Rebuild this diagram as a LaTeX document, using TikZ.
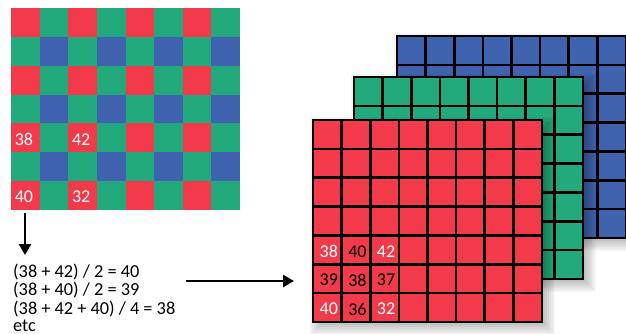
\documentclass[tikz,border=0pt]{standalone}
\usepackage{fontspec}
\setmainfont{Carlito}
\usetikzlibrary{arrows.meta,calc}
\definecolor{cr}{HTML}{F23A4A}
\definecolor{cg}{HTML}{22AA7C}
\definecolor{cb}{HTML}{3F63AF}
\colorlet{m0}{cr}\colorlet{m1}{cg}\colorlet{m2}{cg}\colorlet{m3}{cb}
\newcommand\mklayer[4]{%
  \foreach \e in {0,...,8}
    \fill[black,opacity=0.045] ({#2+13-2*\e},{#3+13-2*\e}) rectangle ({#2+226+2*\e},{#3+199+2*\e});
  \node[layer, fill=#4] (#1) at (#2,#3) {};
  \foreach \i in {1,...,7}
    \draw[gl] ($(#1.north west)+(\i*28.625,0)$) -- ($(#1.south west)+(\i*28.625,0)$);
  \foreach \j in {1,...,6}
    \draw[gl] ($(#1.north west)+(0,\j*28.857)$) -- ($(#1.north east)+(0,\j*28.857)$);
}
\begin{document}
\begin{tikzpicture}[x=1pt,y=-1pt,
  lbl/.style={font=\fontsize{18}{18}\selectfont, inner sep=0},
  formula/.style={font=\fontsize{18.3}{18.7}\selectfont, inner sep=0, anchor=base west},
  arr/.style={line width=2.6pt, -{Triangle[width=12pt,length=11pt]}},
  layer/.style={draw=black, line width=2.2pt, minimum width=229pt, minimum height=202pt, inner sep=0, outer sep=0, anchor=north west},
  gl/.style={line width=2.6pt, black},
]
\useasboundingbox (0,0) rectangle (626,334);

% Bayer mosaic
\node[inner sep=0, outer sep=0, minimum width=229pt, minimum height=202pt, anchor=north west] (mosaic) at (11,8) {};
\foreach \r in {0,...,6}
  \foreach \c in {0,...,7} {
    \pgfmathtruncatemacro\k{mod(\r,2)*2+mod(\c,2)}
    \fill[m\k] ($(mosaic.north west)+(\c*28.625,\r*28.857)$) rectangle ++(28.9,29.1);
  }
\node[lbl, text=white] (a38) at ($(mosaic.north west)+(0.45*28.625,4.55*28.857)$) {38};
\node[lbl, text=white] (a42) at ($(mosaic.north west)+(2.45*28.625,4.55*28.857)$) {42};
\node[lbl, text=white] (a40) at ($(mosaic.north west)+(0.45*28.625,6.55*28.857)$) {40};
\node[lbl, text=white] (a32) at ($(mosaic.north west)+(2.45*28.625,6.55*28.857)$) {32};

% formulas
\node[formula] (f1) at (13,277) {(38 + 42) / 2 = 40};
\node[formula] (f2) at (13,295.5) {(38 + 40) / 2 = 39};
\node[formula] (f3) at (13,314) {(38 + 42 + 40) / 4 = 38};
\node[formula] (f4) at (13,331.5) {etc};

% layers
\mklayer{blue}{397}{36}{cb}
\mklayer{green}{354}{77}{cg}
\mklayer{red}{313}{120}{cr}

% numbers in red layer
\foreach \c/\r/\t/\col in {0/4/38/white,1/4/40/black,2/4/42/white,
                         0/5/39/black,1/5/38/black,2/5/37/black,
                         0/6/40/white,1/6/36/black,2/6/32/white}
  \node[lbl, text=\col] (r\c\r) at ($(red.north west)+({(\c+0.55)*28.625},{(\r+0.55)*28.857})$) {\t};

% arrows
\draw[arr] ([shift={(14,3)}]mosaic.south west) -- ([shift={(12,-22)}]f1.base west);
\draw[arr] ([shift={(173,4)}]f1.base west) -- ([shift={(-19,-41)}]red.south west);
\end{tikzpicture}
\end{document}
